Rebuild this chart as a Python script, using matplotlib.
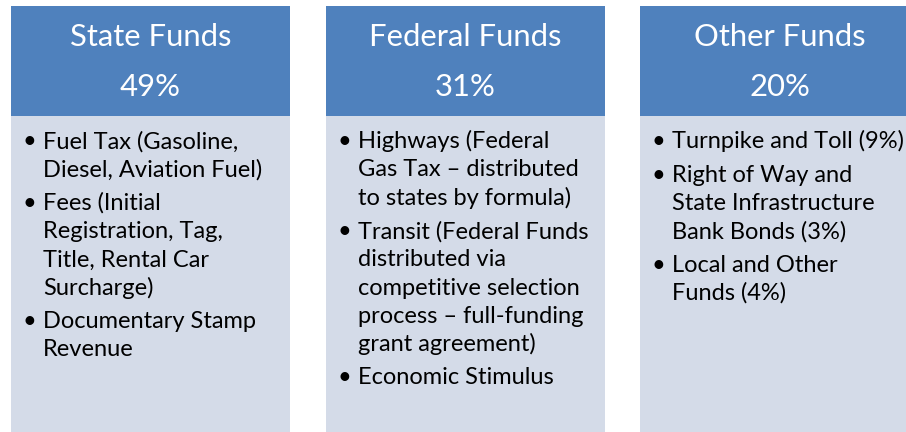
import matplotlib.pyplot as plt
from matplotlib.patches import Rectangle

# Fund sources and their share
titles = ["State Funds", "Federal Funds", "Other Funds"]
shares = [49, 31, 20]

# Bullet text per box, wrapped as in the original slide
state_items = [
    ["Fuel Tax (Gasoline,", "Diesel, Aviation Fuel)"],
    ["Fees (Initial", "Registration, Tag,", "Title, Rental Car", "Surcharge)"],
    ["Documentary Stamp", "Revenue"],
]
federal_items = [
    ["Highways (Federal", "Gas Tax \u2013 distributed", "to states by formula)"],
    ["Transit (Federal Funds", "distributed via", "competitive selection",
     "process \u2013 full-funding", "grant agreement)"],
    ["Economic Stimulus"],
]
other_items = [
    ["Turnpike and Toll (9%)"],
    ["Right of Way and", "State Infrastructure", "Bank Bonds (3%)"],
    ["Local and Other", "Funds (4%)"],
]
items = [state_items, federal_items, other_items]

header_color = "#4F81BD"
body_color = "#D4DBE8"
font = "Lato"

fig = plt.figure(figsize=(9.06, 4.32), dpi=100)
ax = fig.add_axes([0, 0, 1, 1])
ax.set_xlim(0, 906)
ax.set_ylim(432, 0)
ax.axis("off")

box_left = [11, 326, 640]
box_width = 279
top = 6
header_h = 110
line_h = 28.2
para_gap = 5.3

for i in range(3):
    x0 = box_left[i]
    ax.add_patch(Rectangle((x0, top + header_h), box_width, 432 - top - header_h + 5,
                           facecolor=body_color, edgecolor="none"))
    ax.add_patch(Rectangle((x0, top), box_width, header_h,
                           facecolor=header_color, edgecolor="none"))
    cx = x0 + box_width / 2
    ax.text(cx, 45.5, titles[i], color="white", fontsize=22.3, family=font,
            ha="center", va="baseline")
    ax.text(cx, 96.5, f"{shares[i]}%", color="white", fontsize=22.3, family=font,
            ha="center", va="baseline")

    y = 148.3
    for item in items[i]:
        ax.text(x0 + 18.5, y - 6.5, "\u2022", fontsize=17, family=font,
                ha="center", va="center", color="black")
        for line in item:
            ax.text(x0 + 32, y, line, fontsize=17, family=font,
                    ha="left", va="baseline", color="black")
            y += line_h
        y += para_gap

fig.savefig("out.png", dpi=100)
